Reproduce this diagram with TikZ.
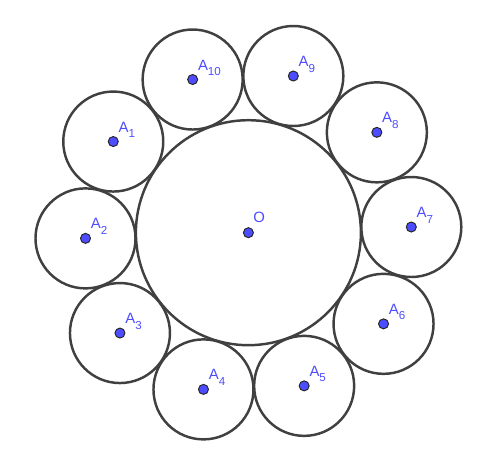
\documentclass[tikz,border=0pt]{standalone}
\usepackage{fontspec}
\setmainfont{Liberation Sans}
\usepackage{tikz}
\definecolor{azulpunto}{RGB}{77,77,255}
\definecolor{grisborde}{RGB}{64,64,64}
\newcommand{\subind}[1]{\raisebox{-3.2pt}{\fontsize{6.6pt}{8pt}\selectfont #1}}

\begin{document}
\begin{tikzpicture}[punto/.style={draw=black!85, line width=0.55pt, circle, fill=azulpunto, inner sep=0pt, minimum size=0.2cm},
                    etiqueta/.style={anchor=base west, inner sep=0pt, text=azulpunto, font=\fontsize{8.5pt}{10pt}\selectfont},
                    circulo/.style={draw=grisborde, line width=1.4pt}]
              \useasboundingbox (-4.968,-4.566) rectangle (5.032,4.654);
              % Circunferencias
              \coordinate (cO) at (0,0);
              \coordinate (c1) at (146:3.26);
              \coordinate (c2) at (182:3.26);
              \coordinate (c3) at (218:3.26);
              \coordinate (c4) at (254:3.26);
              \coordinate (c5) at (290:3.26);
              \coordinate (c6) at (326:3.26);
              \coordinate (c7) at (2:3.26);
              \coordinate (c8) at (38:3.26);
              \coordinate (c9) at (74:3.26);
              \coordinate (c10) at (110:3.26);
              \draw[circulo] (cO) circle (2.25);
              \draw[circulo] (c1) circle (1);
              \draw[circulo] (c2) circle (1);
              \draw[circulo] (c3) circle (1);
              \draw[circulo] (c4) circle (1);
              \draw[circulo] (c5) circle (1);
              \draw[circulo] (c6) circle (1);
              \draw[circulo] (c7) circle (1);
              \draw[circulo] (c8) circle (1);
              \draw[circulo] (c9) circle (1);
              \draw[circulo] (c10) circle (1);

              % Puntos
              \node[punto] (O) at (cO) {};
              \node[punto] (A1) at (c1) {};
              \node[punto] (A2) at (c2) {};
              \node[punto] (A3) at (c3) {};
              \node[punto] (A4) at (c4) {};
              \node[punto] (A5) at (c5) {};
              \node[punto] (A6) at (c6) {};
              \node[punto] (A7) at (c7) {};
              \node[punto] (A8) at (c8) {};
              \node[punto] (A9) at (c9) {};
              \node[punto] (A10) at (c10) {};

              % Etiquetas
              \node[etiqueta] (lO) at ([shift={(0.09,0.2)}]O.center) {O};
              \node[etiqueta] (lA1) at ([shift={(0.1,0.19)}]A1.center) {A\subind{1}};
              \node[etiqueta] (lA2) at ([shift={(0.1,0.19)}]A2.center) {A\subind{2}};
              \node[etiqueta] (lA3) at ([shift={(0.1,0.19)}]A3.center) {A\subind{3}};
              \node[etiqueta] (lA4) at ([shift={(0.1,0.19)}]A4.center) {A\subind{4}};
              \node[etiqueta] (lA5) at ([shift={(0.1,0.19)}]A5.center) {A\subind{5}};
              \node[etiqueta] (lA6) at ([shift={(0.1,0.19)}]A6.center) {A\subind{6}};
              \node[etiqueta] (lA7) at ([shift={(0.1,0.19)}]A7.center) {A\subind{7}};
              \node[etiqueta] (lA8) at ([shift={(0.1,0.19)}]A8.center) {A\subind{8}};
              \node[etiqueta] (lA9) at ([shift={(0.1,0.19)}]A9.center) {A\subind{9}};
              \node[etiqueta] (lA10) at ([shift={(0.1,0.19)}]A10.center) {A\subind{10}};
            \end{tikzpicture}
\end{document}
